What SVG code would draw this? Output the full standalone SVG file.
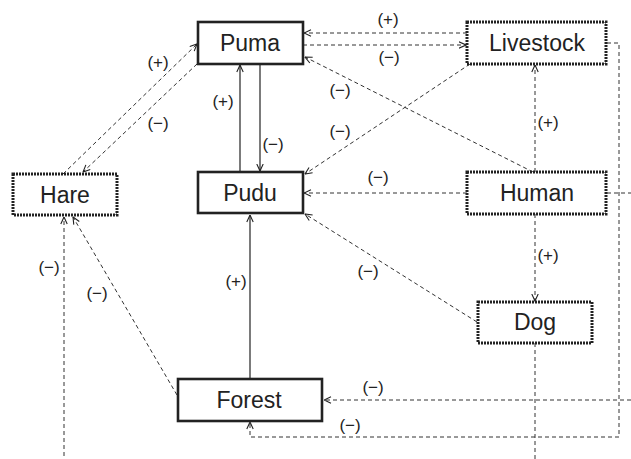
<svg xmlns="http://www.w3.org/2000/svg" width="631" height="459" viewBox="0 0 631 459">
<defs>
<marker id="arr" viewBox="0 0 8 8" refX="7.5" refY="4" markerWidth="8" markerHeight="8" markerUnits="userSpaceOnUse" orient="auto">
<path d="M0.5,0.8 L7.5,4 L0.5,7.2" fill="none" stroke="#222" stroke-width="1.1"/>
</marker>
</defs>
<style>
.solid{fill:#fff;stroke:#222;stroke-width:2.6}
.dotted{fill:#fff;stroke:#222;stroke-width:3;stroke-dasharray:2 1}
.nt{font-family:"Liberation Sans",Arial,sans-serif;font-size:23px;fill:#222;text-anchor:middle;dominant-baseline:central}
.lb{font-family:"Liberation Sans",Arial,sans-serif;font-size:17px;fill:#222;text-anchor:middle;dominant-baseline:central}
.d{fill:none;stroke:#333;stroke-width:1;stroke-dasharray:4 3;marker-end:url(#arr)}
.dn{fill:none;stroke:#333;stroke-width:1;stroke-dasharray:4 3}
.s{fill:none;stroke:#222;stroke-width:1.2;marker-end:url(#arr)}
</style>
<rect width="631" height="459" fill="#fff"/>
<g id="connectors">
<path class="d" d="M467,33 L304,33"/>
<path class="d" d="M303,45 L466,45"/>
<path class="s" d="M240,172 L240,65"/>
<path class="s" d="M260,64 L260,171"/>
<path class="d" d="M63,174 L197,44"/>
<path class="d" d="M197,64 L83,172"/>
<path class="d" d="M533,172 L305,57"/>
<path class="d" d="M470,64 L305,174"/>
<path class="d" d="M467,193 L304,193"/>
<path class="d" d="M477,322 L305,214"/>
<path class="d" d="M535,172 L535,65"/>
<path class="d" d="M535,214 L535,301"/>
<path class="dn" d="M535,343 L535,470"/>
<path class="s" d="M250,378 L250,215"/>
<path class="d" d="M177,395 L73,217"/>
<path class="d" d="M64,470 L64,217"/>
<path class="d" d="M607,43 L619,43 L619,437 L250,437 L250,422"/>
<path class="d" d="M607,193 L645,193 L645,400 L324,400"/>
</g>
<g id="labels">
<text class="lb" x="388" y="19">(+)</text>
<text class="lb" x="389" y="57">(−)</text>
<text class="lb" x="158" y="62">(+)</text>
<text class="lb" x="158" y="123">(−)</text>
<text class="lb" x="223" y="101">(+)</text>
<text class="lb" x="273" y="144">(−)</text>
<text class="lb" x="340" y="90">(−)</text>
<text class="lb" x="340" y="131">(−)</text>
<text class="lb" x="378" y="177">(−)</text>
<text class="lb" x="548" y="122">(+)</text>
<text class="lb" x="548" y="255">(+)</text>
<text class="lb" x="368" y="271">(−)</text>
<text class="lb" x="236" y="281">(+)</text>
<text class="lb" x="49" y="267">(−)</text>
<text class="lb" x="97" y="293">(−)</text>
<text class="lb" x="373" y="387">(−)</text>
<text class="lb" x="350" y="425">(−)</text>
</g>
<g id="puma"><rect class="solid" x="198" y="22" width="105" height="42"/><text class="nt" x="250" y="43">Puma</text></g>
<g id="livestock"><rect class="dotted" x="467" y="22" width="139" height="42"/><text class="nt" x="537" y="43">Livestock</text></g>
<g id="hare"><rect class="dotted" x="13" y="174" width="104" height="41"/><text class="nt" x="65" y="195">Hare</text></g>
<g id="pudu"><rect class="solid" x="198" y="172" width="105" height="41"/><text class="nt" x="250" y="193">Pudu</text></g>
<g id="human"><rect class="dotted" x="467" y="172" width="139" height="42"/><text class="nt" x="537" y="193">Human</text></g>
<g id="dog"><rect class="dotted" x="478" y="302" width="114" height="41"/><text class="nt" x="535" y="322">Dog</text></g>
<g id="forest"><rect class="solid" x="178" y="379" width="144" height="42"/><text class="nt" x="249" y="400">Forest</text></g>
</svg>
